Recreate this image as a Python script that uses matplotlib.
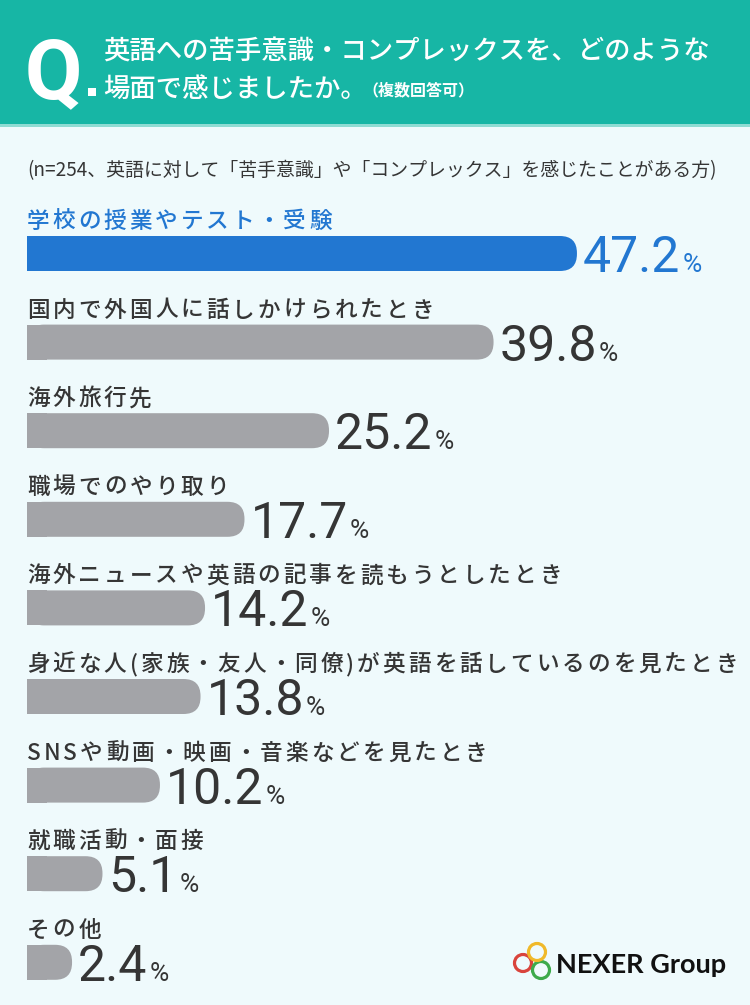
import matplotlib
matplotlib.use('Agg')
import matplotlib.pyplot as plt
from matplotlib.patches import FancyBboxPatch, Rectangle, Circle
from matplotlib.font_manager import FontProperties

# データ
categories = [
    '学校の授業やテスト・受験',
    '国内で外国人に話しかけられたとき',
    '海外旅行先',
    '職場でのやり取り',
    '海外ニュースや英語の記事を読もうとしたとき',
    '身近な人(家族・友人・同僚)が英語を話しているのを見たとき',
    'SNSや動画・映画・音楽などを見たとき',
    '就職活動・面接',
    'その他',
]
values = [47.2, 39.8, 25.2, 17.7, 14.2, 13.8, 10.2, 5.1, 2.4]

title_line1 = '英語への苦手意識・コンプレックスを、どのような'
title_line2 = '場面で感じましたか。'
title_sub = '（複数回答可）'
sample_note = '(n=254、英語に対して「苦手意識」や「コンプレックス」を感じたことがある方)'
logo_text = 'NEXER Group'

# 色
BG = '#EFFAFC'
TEAL = '#17B6A5'
BLUE = '#2277D1'
GRAY = '#A3A4A8'
DARK = '#353535'
JP = ['Noto Sans CJK JP', 'DejaVu Sans']

W, H = 750, 1005
fig = plt.figure(figsize=(7.5, 10.05), dpi=100)
fig.patch.set_facecolor(BG)
ax = fig.add_axes([0, 0, 1, 1])
ax.set_xlim(0, W)
ax.set_ylim(H, 0)
ax.axis('off')
renderer = fig.canvas.get_renderer()


def text_w(s, prop):
    w, h, d = renderer.get_text_width_height_descent(s, prop, ismath=False)
    return w


def spaced(x, y, s, spacing, size, color, weight='normal'):
    # 文字間隔をあけて1文字ずつ描画
    prop = FontProperties(family=JP, size=size, weight=weight)
    base = text_w('国国', prop)
    for ch in s:
        ax.text(x, y, ch, ha='left', va='baseline', fontproperties=prop, color=color)
        x += text_w('国' + ch + '国', prop) - base + spacing
    return x


# ヘッダー
ax.add_patch(Rectangle((0, 0), W, 124, facecolor=TEAL, edgecolor='none'))
ax.add_patch(Rectangle((0, 124), W, 3, facecolor='#8FDCD3', edgecolor='none'))
ax.text(25, 98, 'Q', ha='left', va='baseline', color='white', fontsize=60,
        fontweight='bold', family=['Roboto', 'DejaVu Sans'])
ax.add_patch(Rectangle((88, 88), 8, 8, facecolor='white', edgecolor='none'))
ax.text(103, 60, title_line1, ha='left', va='baseline', color='white',
        fontsize=19, family=JP, fontweight='medium')
ax.text(103, 97, title_line2, ha='left', va='baseline', color='white',
        fontsize=19, family=JP, fontweight='medium')
x2 = 103 + text_w(title_line2, FontProperties(family=JP, size=19, weight='medium'))
ax.text(x2 - 4, 95, title_sub, ha='left', va='baseline', color='white',
        fontsize=11.5, family=JP, fontweight='bold')

# 注記
ax.text(27, 176, sample_note, ha='left', va='baseline', color=DARK,
        fontsize=13.6, family=JP)

# 棒グラフ
x0 = 27
scale = 11.27
cap = 18
bar_h = 35
num_prop = FontProperties(family=['Roboto', 'DejaVu Sans'], size=36, weight='normal')
pct_prop = FontProperties(family=['Roboto', 'DejaVu Sans'], size=19, weight='normal')

for i, (cat, v) in enumerate(zip(categories, values)):
    top = 236 + 88.6 * i
    col = BLUE if i == 0 else GRAY
    tcol = BLUE if i == 0 else DARK
    spaced(x0, top - 8, cat, 3, 16.3, tcol, weight='medium')

    length = v * scale + cap
    ax.add_patch(FancyBboxPatch((x0, top), length, bar_h,
                                boxstyle='round,pad=0,rounding_size=17',
                                facecolor=col, edgecolor='none'))
    ax.add_patch(Rectangle((x0, top), min(20, length / 2), bar_h,
                           facecolor=col, edgecolor='none'))

    num = f'{v:.1f}'
    nx = x0 + length + 6
    ax.text(nx, top + bar_h + 1, num, ha='left', va='baseline',
            fontproperties=num_prop, color=tcol)
    px = nx + text_w(num, num_prop) + 2
    ax.text(px, top + bar_h + 1, '%', ha='left', va='baseline',
            fontproperties=pct_prop, color=tcol)

# ロゴ
for (cx, cy, c) in [(523, 963, '#D9443C'), (541, 970, '#3DAA4B'), (537, 952, '#F0B92A')]:
    ax.add_patch(Circle((cx, cy), 8.5, fill=False, edgecolor=c, linewidth=2.3))
ax.text(556, 973, logo_text, ha='left', va='baseline', color='#111111',
        fontsize=19.5, fontweight='bold', family=['Lato', 'DejaVu Sans'])

fig.savefig('out.png', dpi=100, facecolor=BG)
